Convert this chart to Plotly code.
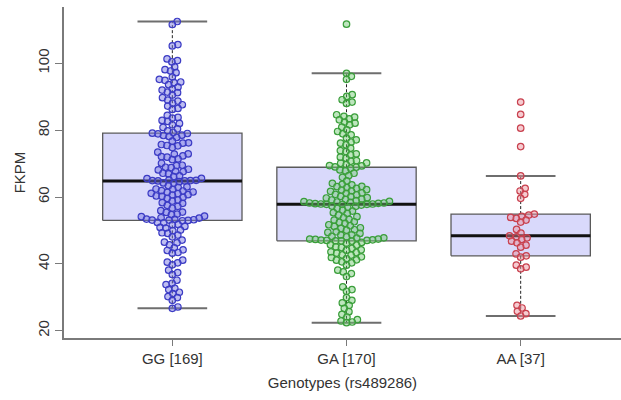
import numpy as np
import plotly.graph_objects as go

# Genotype groups (rs489286) and their FKPM expression values
categories = ["GG [169]", "GA [170]", "AA [37]"]

fkpm_gg = [
    112.5, 111.6, 105.6, 105.2, 101.3, 100.8, 100.4, 98.9, 98.1, 97.7, 97.2, 95.9,
    95.2, 94.9, 94.4, 94.2, 93.6, 92.9, 92.3, 92.0, 91.4, 91.2, 90.5, 89.7, 89.0,
    88.7, 88.1, 87.6, 87.2, 86.5, 86.2, 84.4, 83.8, 83.6, 82.9, 82.6, 82.0, 81.6,
    80.8, 80.4, 79.8, 79.3, 79.1,
    79.0, 78.9, 78.5, 78.4, 78.1, 77.8, 76.7, 76.2, 76.1, 75.7, 75.4, 75.3, 74.8,
    73.4, 72.9, 72.8, 72.3, 72.1, 71.9, 71.4, 71.2, 70.1, 69.5, 69.4, 68.9, 68.8,
    68.3, 68.1, 67.7, 67.6, 67.1, 66.9, 66.3, 66.1, 65.6, 65.5, 65.1, 65.0, 64.9,
    64.9, 64.8, 64.8,
    64.6, 64.2, 64.1, 63.4, 63.0, 62.9, 62.4, 62.3, 61.9, 61.8, 61.5, 61.4, 61.1,
    61.0, 60.7, 60.6, 60.3, 60.2, 59.9, 59.6, 59.1, 58.8, 58.3, 58.1, 57.5, 57.2,
    56.7, 55.9, 55.5, 55.4, 54.9, 54.7, 54.3, 54.1, 53.8, 53.7, 53.4, 53.3, 53.2,
    53.1, 53.1, 53.0,
    52.9, 52.4, 52.3, 51.8, 51.7, 51.2, 50.9, 50.7, 50.1, 49.9, 49.3, 49.1, 48.6,
    48.1, 47.1, 46.5, 46.3, 45.7, 44.8, 44.2, 44.0, 43.4, 43.2, 41.1, 40.5, 40.3,
    39.7, 38.1, 37.4, 36.8, 35.1, 34.2, 33.8, 32.7, 32.3, 31.5, 31.1, 30.2, 29.9,
    29.1, 27.1, 26.7,
]

fkpm_ga = [
    111.7, 97.0, 96.1, 95.2, 90.6, 90.1, 89.1, 88.4, 88.0, 84.6, 84.1, 83.9, 83.4,
    83.1, 82.4, 82.1, 81.6, 80.9, 80.1, 79.6, 78.9, 78.6, 77.6, 77.1, 76.4, 76.1,
    75.6, 74.6, 73.9, 73.6, 72.9, 72.6, 71.9, 71.6, 70.9, 70.7, 70.2, 70.1, 69.7,
    69.4, 69.3, 69.0, 68.9,
    68.6, 68.1, 67.8, 67.1, 66.4, 65.9, 64.8, 64.1, 63.8, 63.6, 63.2, 63.1, 62.8,
    62.6, 62.2, 62.1, 61.8, 61.7, 61.2, 61.1, 60.8, 60.6, 60.2, 60.1, 59.8, 59.7,
    59.4, 59.3, 59.1, 58.9, 58.7, 58.6, 58.5, 58.4, 58.2, 58.2, 58.1, 58.0, 57.9,
    57.9, 57.8, 57.8, 57.8,
    57.6, 57.3, 57.2, 56.9, 56.6, 56.1, 55.8, 55.3, 55.1, 54.6, 54.1, 53.8, 53.3,
    53.1, 52.6, 52.4, 52.1, 51.7, 51.4, 51.2, 50.8, 50.6, 50.2, 50.1, 49.6, 49.4,
    49.1, 48.7, 48.6, 48.2, 48.1, 47.8, 47.7, 47.4, 47.4, 47.3, 47.2, 47.1, 47.0,
    47.0, 46.9, 46.9,
    46.8, 46.4, 46.2, 45.7, 45.6, 45.1, 44.9, 44.6, 44.2, 44.1, 43.6, 43.4, 43.2,
    42.7, 42.6, 42.1, 41.9, 41.6, 41.2, 41.1, 40.6, 40.3, 39.6, 38.1, 37.6, 37.1,
    36.2, 33.1, 32.3, 31.8, 29.9, 29.1, 28.3, 27.6, 26.7, 25.7, 24.9, 24.1, 23.3,
    22.9, 22.6, 22.4,
]

fkpm_aa = [
    88.4, 84.7, 80.6, 75.1, 66.3, 62.6, 61.8, 60.8, 59.6, 54.9, 54.6, 54.2, 53.9,
    53.6, 53.1, 52.5, 50.3, 49.2, 48.4, 48.1, 47.8, 47.3, 46.8, 46.3, 45.6, 45.0,
    43.0, 42.4, 42.0, 39.6, 39.0, 38.5, 27.6, 26.8, 25.8, 25.1, 24.4,
]

groups = [fkpm_gg, fkpm_ga, fkpm_aa]
edge_colors = ["#3b3bc4", "#3a9e3a", "#c8404e"]
fill_colors = ["rgba(110,110,225,0.45)", "rgba(110,200,110,0.45)", "rgba(235,140,150,0.45)"]

# Figure geometry
W, H = 621, 400
M_L, M_R, M_T, M_B = 64, 0, 7, 62
X_RANGE = [0.378, 3.576]
Y_RANGE = [17.82, 116.84]
PX_X = (W - M_L - M_R) / (X_RANGE[1] - X_RANGE[0])
PX_Y = (H - M_T - M_B) / (Y_RANGE[1] - Y_RANGE[0])

BOX_W = 0.8
CAP_W = 0.4
FONT = "Liberation Sans, Arial, sans-serif"
TEXT = "#333333"


def fivenum(v):
    """Tukey five-number summary (min, lower hinge, median, upper hinge, max)."""
    x = np.sort(np.asarray(v, float))
    n = len(x)
    n4 = np.floor((n + 3) / 2) / 2
    d = np.array([1, n4, (n + 1) / 2, n + 1 - n4, n]) - 1
    return 0.5 * (x[np.floor(d).astype(int)] + x[np.ceil(d).astype(int)])


def box_stats(v):
    x = np.asarray(v, float)
    _, q1, med, q3, _ = fivenum(x)
    iqr = q3 - q1
    lo = x[x >= q1 - 1.5 * iqr].min()
    hi = x[x <= q3 + 1.5 * iqr].max()
    return lo, q1, med, q3, hi


def swarm_offsets(v, spacing=5.7):
    """Beeswarm layout: place points low to high, nearest free slot to the centre."""
    y = np.asarray(v, float) * PX_Y
    order = np.argsort(y, kind="stable")
    placed = []
    off = np.zeros(len(y))
    for i in order:
        yi = y[i]
        near = [(px, py) for px, py in placed if abs(py - yi) < spacing]
        cands = [0.0]
        for px, py in near:
            dx = np.sqrt(spacing ** 2 - (py - yi) ** 2)
            cands += [px + dx, px - dx]
        cands.sort(key=lambda c: (abs(c), -c))
        for c in cands:
            if all((c - px) ** 2 + (yi - py) ** 2 >= spacing ** 2 - 1e-6 for px, py in near):
                off[i] = c
                break
        placed.append((off[i], yi))
    return off / PX_X


fig = go.Figure()

for k, vals in enumerate(groups):
    pos = k + 1
    lo, q1, med, q3, hi = box_stats(vals)
    hw = BOX_W / 2
    cw = CAP_W / 2
    # box body
    fig.add_trace(go.Scatter(
        x=[pos - hw, pos + hw, pos + hw, pos - hw, pos - hw],
        y=[q1, q1, q3, q3, q1], mode="lines", fill="toself",
        fillcolor="#d9d9fb", line=dict(color="#5a5a5a", width=1.3),
        hoverinfo="skip", showlegend=False))
    # dashed whiskers
    for a, b in ((q3, hi), (q1, lo)):
        fig.add_trace(go.Scatter(
            x=[pos, pos], y=[a, b], mode="lines",
            line=dict(color="#222222", width=1, dash="3px,2px"),
            hoverinfo="skip", showlegend=False))
    # whisker caps
    for c in (lo, hi):
        fig.add_trace(go.Scatter(
            x=[pos - cw, pos + cw], y=[c, c], mode="lines",
            line=dict(color="#6e6e6e", width=2),
            hoverinfo="skip", showlegend=False))
    # median
    fig.add_trace(go.Scatter(
        x=[pos - hw, pos + hw], y=[med, med], mode="lines",
        line=dict(color="#111111", width=3),
        hoverinfo="skip", showlegend=False))

for k, vals in enumerate(groups):
    pos = k + 1
    xs = pos + swarm_offsets(vals)
    fig.add_trace(go.Scatter(
        x=xs, y=vals, mode="markers", name=categories[k],
        marker=dict(size=6.5, color=fill_colors[k],
                    line=dict(color=edge_colors[k], width=1.2)),
        showlegend=False))

axis_common = dict(
    showline=True, linecolor="#7a7a7a", linewidth=1.5,
    ticks="outside", tickcolor="#7a7a7a", tickwidth=1.2,
    showgrid=False, zeroline=False,
    tickfont=dict(family=FONT, size=15, color=TEXT),
)

fig.update_layout(
    width=W, height=H,
    margin=dict(l=M_L, r=M_R, t=M_T, b=M_B),
    paper_bgcolor="white", plot_bgcolor="white",
    font=dict(family=FONT, size=15, color=TEXT),
    xaxis=dict(
        range=X_RANGE, tickvals=[1, 2, 3], ticktext=categories, ticklen=6,
        title=dict(text="Genotypes (rs489286)", font=dict(family=FONT, size=15, color=TEXT),
                   standoff=12),
        **axis_common),
    yaxis=dict(
        range=Y_RANGE, tickvals=[20, 40, 60, 80, 100], ticklen=7, tickangle=-90,
        title=dict(text="FKPM", font=dict(family=FONT, size=15, color=TEXT), standoff=6),
        **axis_common),
)

fig.write_html("out.html")
